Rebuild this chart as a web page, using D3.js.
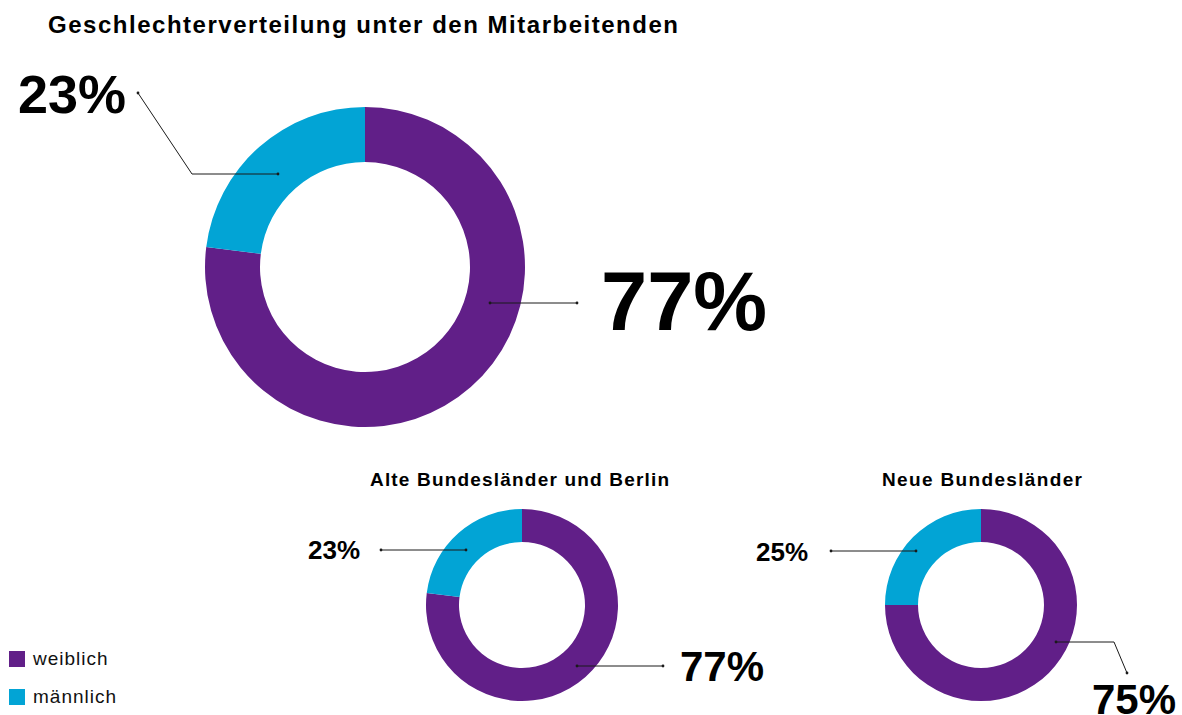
<html>
  <head>
    <script src="https://cdn.jsdelivr.net/npm/d3@7"></script>
    <style>
      * {
        margin: 0;
        padding: 0;
      }
      body {
        background-color: white;
        font-family: "Liberation Sans", Arial, Helvetica, sans-serif;
      }
      .title {
        font-weight: 700;
        fill: #000;
      }
      .pct {
        font-weight: 700;
        fill: #000;
      }
      .leader {
        fill: none;
        stroke: #1a1a1a;
        stroke-width: 1px;
      }
      .legendText {
        font-size: 19px;
        letter-spacing: 1px;
        fill: #111;
      }
    </style>
  </head>
  <body>
    <div id="container"></div>
    <script>
      // data
      const categories = ["weiblich", "männlich"];
      const colors = ["#611f88", "#02a4d5"];
      const chartTitles = [
        "Geschlechterverteilung unter den Mitarbeitenden",
        "Alte Bundesländer und Berlin",
        "Neue Bundesländer",
      ];
      const gesamt = [77, 23];
      const alteLaender = [77, 23];
      const neueLaender = [75, 25];

      const w = 1182;
      const h = 715;

      const svg = d3
        .select("#container")
        .append("svg")
        .attr("width", w)
        .attr("height", h);

      svg
        .append("text")
        .attr("class", "title")
        .attr("x", 48)
        .attr("y", 33)
        .attr("textLength", 630)
        .attr("lengthAdjust", "spacing")
        .style("font-size", "24px")
        .text(chartTitles[0]);

      const color = d3.scaleOrdinal().domain(categories).range(colors);

      const pie = d3
        .pie()
        .sort(null)
        .value((d) => d.value);

      // layout for each donut; leader points are relative to the centre
      const charts = [
        {
          values: gesamt,
          cx: 365,
          cy: 267,
          outer: 160,
          inner: 105,
          labels: [
            { size: 83, x: 601, y: 330, pts: [[125, 36], [212, 36]] },
            { size: 54, x: 18, y: 113, pts: [[-87, -93], [-173, -93], [-227, -174]] },
          ],
        },
        {
          values: alteLaender,
          title: chartTitles[1],
          titleX: 370,
          titleW: 299,
          cx: 522,
          cy: 605,
          outer: 96,
          inner: 63,
          labels: [
            { size: 42, x: 680, y: 681, pts: [[55, 61], [141, 61]] },
            { size: 26, x: 308, y: 559, pts: [[-56, -55], [-141, -55]] },
          ],
        },
        {
          values: neueLaender,
          title: chartTitles[2],
          titleX: 882,
          titleW: 200,
          cx: 981,
          cy: 605,
          outer: 96,
          inner: 63,
          labels: [
            { size: 42, x: 1092, y: 714, pts: [[75, 37], [133, 37], [146, 68]] },
            { size: 26, x: 756, y: 561, pts: [[-65, -54], [-150, -54]] },
          ],
        },
      ];

      charts.forEach((c) => {
        const data = categories.map((k, i) => ({ key: k, value: c.values[i] }));
        const arc = d3.arc().innerRadius(c.inner).outerRadius(c.outer);

        const g = svg
          .append("g")
          .attr("transform", "translate(" + c.cx + "," + c.cy + ")");

        g.selectAll("path")
          .data(pie(data))
          .enter()
          .append("path")
          .attr("d", arc)
          .attr("fill", (d) => color(d.data.key));

        if (c.title) {
          svg
            .append("text")
            .attr("class", "title")
            .attr("x", c.titleX)
            .attr("y", c.cy - 119)
            .attr("textLength", c.titleW)
            .attr("lengthAdjust", "spacing")
            .style("font-size", "19px")
            .text(c.title);
        }

        c.labels.forEach((l, i) => {
          g.append("path")
            .attr("class", "leader")
            .attr("d", d3.line()(l.pts));
          [l.pts[0], l.pts[l.pts.length - 1]].forEach((p) => {
            g.append("circle")
              .attr("cx", p[0])
              .attr("cy", p[1])
              .attr("r", 1.4)
              .attr("fill", "#1a1a1a");
          });
          svg
            .append("text")
            .attr("class", "pct")
            .attr("x", l.x)
            .attr("y", l.y)
            .style("font-size", l.size + "px")
            .text(c.values[i] + "%");
        });
      });

      // legend
      const legend = svg
        .selectAll(".legendItem")
        .data(categories)
        .enter()
        .append("g")
        .attr("class", "legendItem")
        .attr("transform", (d, i) => "translate(9," + (651 + i * 38) + ")");

      legend
        .append("rect")
        .attr("width", 16)
        .attr("height", 16)
        .attr("fill", (d) => color(d));

      legend
        .append("text")
        .attr("class", "legendText")
        .attr("x", 24)
        .attr("y", 14)
        .text((d) => d);
    </script>
  </body>
</html>
